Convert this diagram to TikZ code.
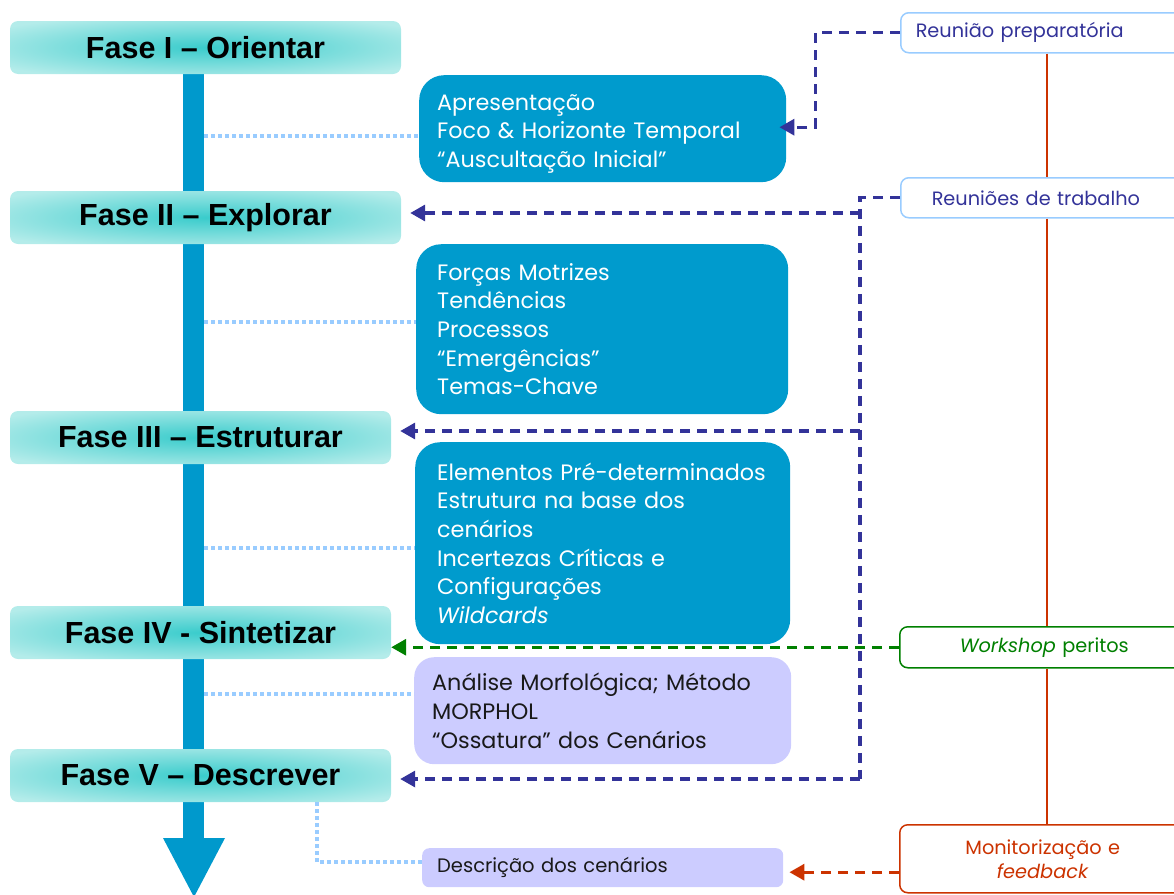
\documentclass[tikz,border=0pt]{standalone}
\usepackage{fontspec}
\setmainfont{Poppins}
\newfontfamily\phasefont{Liberation Sans}
\usetikzlibrary{arrows.meta,calc}
\definecolor{barblue}{RGB}{0,153,204}
\definecolor{boxblue}{RGB}{0,155,205}
\definecolor{lav}{RGB}{204,204,255}
\definecolor{dotblue}{RGB}{153,204,255}
\definecolor{dkblue}{RGB}{51,51,153}
\definecolor{grn}{RGB}{0,128,0}
\definecolor{org}{RGB}{204,51,0}
\definecolor{phin}{RGB}{58,204,204}
\definecolor{phout}{RGB}{180,236,234}
\definecolor{lavtext}{RGB}{25,25,25}
\pgfdeclareradialshading{phaseglow}{\pgfpoint{0bp}{0bp}}{color(0bp)=(phin); color(32bp)=(phout); color(50bp)=(phout)}
\tikzset{
  phase/.style={rectangle, rounded corners=8, shading=phaseglow, inner sep=0, minimum height=53,
    font=\phasefont\bfseries\fontsize{30.5}{31}\selectfont, text=black},
  bbox/.style={rectangle, anchor=north west, rounded corners=25, fill=boxblue, text=white, align=left,
    inner ysep=0, font=\fontsize{22.3}{28.7}\selectfont},
  lbox/.style={bbox, fill=lav, text=lavtext, rounded corners=20},
  rbox/.style={rectangle, anchor=north west, rounded corners=8, fill=white, line width=1.5,
    inner ysep=0, minimum height=40, font=\fontsize{19.3}{24}\selectfont},
  dkd/.style={draw=dkblue, line width=3.3, dash pattern=on 10 off 7},
  gd/.style={draw=grn, line width=3.3, dash pattern=on 10 off 7},
  od/.style={draw=org, line width=3.3, dash pattern=on 10 off 7},
  dotc/.style={draw=dotblue, line width=4.5, dash pattern=on 4 off 3},
  tip/.style={-{Triangle[length=15,width=16]}},
  vline/.style={draw=org, line width=1.8}
}
\begin{document}
\begin{tikzpicture}[x=1pt,y=-1pt]
\useasboundingbox (0,0) rectangle (1174,894);
\clip (0,0) rectangle (1174,894);
% main bar
\fill[barblue] (183,60) rectangle (204,838);
\fill[barblue] (163,838) -- (225,838) -- (194,897) -- cycle;
% phases
\node[phase, minimum width=391] (f1) at (205.5,47.5) {Fase I – Orientar};
\node[phase, minimum width=391] (f2) at (205.5,217.5) {Fase II – Explorar};
\node[phase, minimum width=381] (f3) at (200.5,437.5) {Fase III – Estruturar};
\node[phase, minimum width=381] (f4) at (200.5,632.5) {Fase IV - Sintetizar};
\node[phase, minimum width=381] (f5) at (200.5,775.5) {Fase V – Descrever};
% content boxes
\node[bbox, inner xsep=18, text width=331, minimum height=107] (b1) at (419,75)
  {\rule{0pt}{26pt}Apresentação\\Foco \& Horizonte Temporal\\“Auscultação Inicial”};
\node[bbox, inner xsep=21, text width=330, minimum height=170] (b2) at (416,244)
  {Forças Motrizes\\Tendências\\Processos\\“Emergências”\\Temas-Chave};
\node[bbox, inner xsep=22, text width=331, minimum height=202] (b3) at (415,442)
  {Elementos Pré-determinados\\Estrutura na base dos\\cenários\\Incertezas Críticas e\\Configurações\\\textit{Wildcards}};
\node[lbox, inner xsep=18, text width=341, minimum height=107] (b4) at (414,657)
  {Análise Morfológica; Método\\MORPHOL\\“Ossatura” dos Cenários};
\node[lbox, inner xsep=15, text width=331, minimum height=39, rounded corners=7,
  font=\fontsize{19.5}{22}\selectfont] (b5) at (422,848) {Descrição dos cenários};
% right boxes
\node[rbox, draw=dotblue, text=dkblue, inner xsep=15, text width=260, align=left] (prep) at (900,12) {Reunião preparatória};
\node[rbox, draw=dotblue, text=dkblue, inner xsep=31, text width=240, align=left] (trab) at (900,177) {Reuniões de trabalho};
\node[rbox, draw=grn, text=grn, inner xsep=60, text width=215, align=left, minimum height=41] (wk) at (899,626) {\textit{Workshop} peritos};
\node[rbox, draw=org, text=org, inner xsep=8, text width=270, align=center, minimum height=68] (mon) at (899,824) {Monitorização e\\\textit{feedback}};
% vertical timeline
\coordinate (vx) at (1047,0);
\draw[vline, line width=1.2] (prep.south -| vx) -- (trab.north -| vx);
\draw[vline] (trab.south -| vx) -- (wk.north -| vx);
\draw[vline] (wk.south -| vx) -- (mon.north -| vx);
% dotted links from bar
\coordinate (barR) at (204,0);
\coordinate (d1) at ([yshift=-7.5]b1.west);
\coordinate (d2) at ([yshift=7]b2.west);
\coordinate (d3) at ([yshift=-5]b3.west);
\coordinate (d4) at ([yshift=16.5]b4.west);
\coordinate (d5) at ([yshift=5.5]b5.west);
\coordinate (fv) at (317,0);
\draw[dotc] (barR |- d1) -- (d1);
\draw[dotc] (barR |- d2) -- (d2);
\draw[dotc] (barR |- d3) -- (d3);
\draw[dotc] (barR |- d4) -- (d4);
\draw[dotc] (fv |- f5.south) |- (d5);
% meeting connectors
\coordinate (b1t) at ([shift={(-7,-1.5)}]b1.east);
\draw[dkd, tip] (prep.west) -| ([xshift=36]b1t) -- (b1t);
\coordinate (bus) at (860,0);
\coordinate (f2t) at ([shift={(9,-4.5)}]f2.east);
\coordinate (f3t) at ([shift={(9,-6.5)}]f3.east);
\coordinate (f5t) at ([shift={(9,3.5)}]f5.east);
\draw[dkd] (trab.west) -- (bus |- trab.west) -- (bus |- f5t);
\draw[dkd, tip] (bus |- f2t) -- (f2t);
\draw[dkd, tip] (bus |- f3t) -- (f3t);
\draw[dkd, tip] (bus |- f5t) -- (f5t);
\draw[gd, tip] (wk.west) -- (wk.west -| f4.east);
\coordinate (b5t) at ([shift={(6,4.5)}]b5.east);
\draw[od, tip] (mon.west |- b5t) -- (b5t);
\end{tikzpicture}
\end{document}
